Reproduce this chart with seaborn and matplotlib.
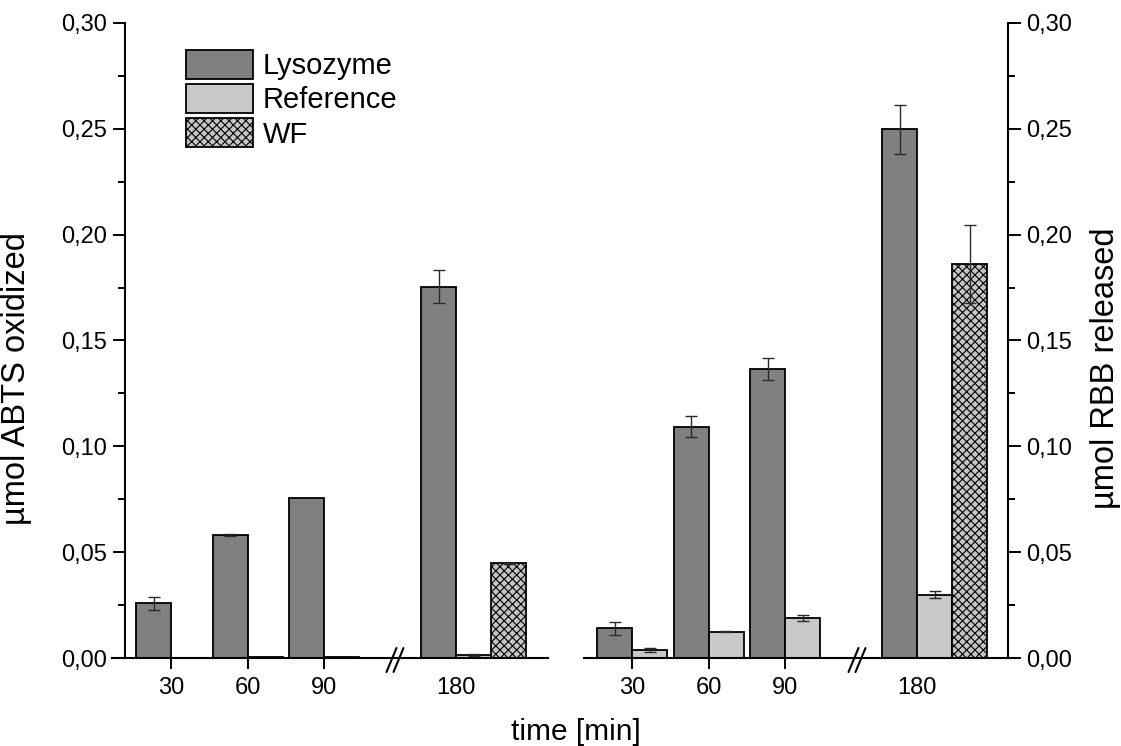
import numpy as np
import pandas as pd
import matplotlib
matplotlib.use("Agg")
import matplotlib.pyplot as plt
import seaborn as sns
from matplotlib.patches import Patch
from matplotlib.lines import Line2D
from matplotlib.container import BarContainer
from matplotlib.ticker import MultipleLocator, FuncFormatter
from matplotlib.colors import to_rgba

# ---------------- data ----------------
times = ["30", "60", "90", "180"]
series_names = ["Lysozyme", "Reference", "WF"]

abts_lys = [0.0258, 0.0580, 0.0755, 0.1755]
abts_lys_err = [0.0030, 0.0004, 0.0, 0.0080]
abts_ref = [0.0, 0.0006, 0.0005, 0.0015]
abts_ref_err = [0.0, 0.0, 0.0, 0.0004]
abts_wf = [np.nan, np.nan, np.nan, 0.0447]
abts_wf_err = [np.nan, np.nan, np.nan, 0.0003]

rbb_lys = [0.0140, 0.1093, 0.1365, 0.2497]
rbb_lys_err = [0.0030, 0.0050, 0.0052, 0.0115]
rbb_ref = [0.0038, 0.0125, 0.0190, 0.0300]
rbb_ref_err = [0.0010, 0.0003, 0.0015, 0.0018]
rbb_wf = [np.nan, np.nan, np.nan, 0.1860]
rbb_wf_err = [np.nan, np.nan, np.nan, 0.0185]

# ---------------- style ----------------
sns.set_style("ticks")
plt.rcParams["font.family"] = ["Liberation Sans", "DejaVu Sans"]
plt.rcParams["hatch.linewidth"] = 0.8
for k in ["text.color", "axes.labelcolor", "xtick.color", "ytick.color", "axes.edgecolor"]:
    plt.rcParams[k] = "black"

colors = {"Lysozyme": "#808080", "Reference": "#c8c8c8", "WF": "#c4c4c4"}
hatches = {"Lysozyme": "", "Reference": "", "WF": "xxxx"}

W, H = 1121, 746
fig = plt.figure(figsize=(W / 100, H / 100), dpi=100)

BW = 35 / 76.5          # width of one bar (axis units)
BREAK_POS = 3.73        # position of the 180 group after the axis break
group_pos = [0, 1, 2, BREAK_POS]
TICK_FS = 17
YLABEL_FS = 23.5
XLABEL_FS = 21.5
LEG_FS = 21


def px_axes(x0, x1, y0, y1):
    return fig.add_axes([x0 / W, 1 - y1 / H, (x1 - x0) / W, (y1 - y0) / H])


def make_df(lys, lys_e, ref, ref_e, wf, wf_e):
    rows = []
    for name, vals, errs in [("Lysozyme", lys, lys_e), ("Reference", ref, ref_e), ("WF", wf, wf_e)]:
        for i, (v, e) in enumerate(zip(vals, errs)):
            if np.isnan(v):
                continue
            rows.append(dict(pos=group_pos[i] + BW / 2, series=name, value=v, err=e, t=times[i]))
    return pd.DataFrame(rows)


def draw_panel(ax, df):
    sns.barplot(data=df, x="pos", y="value", hue="series", hue_order=series_names,
                palette=colors, native_scale=True, width=3 * BW, dodge=True,
                errorbar=None, edgecolor="black", linewidth=1.3, saturation=1,
                legend=False, ax=ax)
    bar_conts = [c for c in ax.containers if isinstance(c, BarContainer)]
    for cont in bar_conts:
        if len(cont.patches) == 0:
            continue
        fc = cont.patches[0].get_facecolor()
        name = min(series_names, key=lambda n: np.sum(np.abs(np.array(to_rgba(colors[n])) - np.array(fc))))
        sub = df[df.series == name].sort_values("pos")
        pats = sorted(cont.patches, key=lambda p: p.get_x())
        for p, (_, r) in zip(pats, sub.iterrows()):
            p.set_hatch(hatches[name])
            if r.err > 0:
                ax.errorbar(p.get_x() + p.get_width() / 2, p.get_height(), yerr=r.err,
                            fmt="none", ecolor="#2a2a2a", elinewidth=1.0, capsize=4.3,
                            capthick=1.0, zorder=5)


def style_axis(ax, xlim, spine_x, side):
    ax.set_xlim(*xlim)
    ax.set_ylim(0, 0.30)
    ax.yaxis.set_major_locator(MultipleLocator(0.05))
    ax.yaxis.set_minor_locator(MultipleLocator(0.025))
    ax.yaxis.set_major_formatter(FuncFormatter(lambda v, _: f"{v:.2f}".replace(".", ",")))
    ax.set_xticks(group_pos)
    ax.set_xticklabels(times)
    ax.tick_params(axis="x", direction="out", length=8, width=1.4, labelsize=TICK_FS, pad=6)
    ax.tick_params(axis="y", which="major", direction="out", length=9, width=1.4, labelsize=TICK_FS, pad=4)
    ax.tick_params(axis="y", which="minor", direction="out", length=5, width=1.4)
    ax.xaxis.get_major_ticks()[3].tick1line.set_visible(False)
    for s in ["top", "left", "right", "bottom"]:
        ax.spines[s].set_visible(False)
    ax.spines["bottom"].set_visible(True)
    ax.spines["bottom"].set_linewidth(1.5)
    ax.spines[side].set_visible(True)
    ax.spines[side].set_linewidth(1.5)
    ax.spines[side].set_position(("data", spine_x))
    if side == "right":
        ax.yaxis.tick_right()
        ax.yaxis.set_label_position("right")
    ax.set_xlabel("")
    ax.patch.set_alpha(0)


def draw_break(ax, xb):
    fig.canvas.draw()
    x0, y0 = ax.transData.transform((xb, 0))
    for dx in (-3.5, 3.5):
        xs = np.array([x0 + dx - 5, x0 + dx + 5]) / W
        ys = np.array([y0 - 14, y0 + 10]) / H
        fig.add_artist(Line2D(xs, ys, transform=fig.transFigure, color="black", lw=1.5))


# left panel
axL = px_axes(112, 548, 23, 658)
dfL = make_df(abts_lys, abts_lys_err, abts_ref, abts_ref_err, abts_wf, abts_wf_err)
draw_panel(axL, dfL)
style_axis(axL, ((112 - 171) / 76.5, (548 - 171) / 76.5), (125 - 171) / 76.5, "left")
axL.set_ylabel("µmol ABTS oxidized", fontsize=YLABEL_FS)
axL.yaxis.set_label_coords(-0.183, 0.44)

# right panel
axR = px_axes(584, 1018, 23, 658)
dfR = make_df(rbb_lys, rbb_lys_err, rbb_ref, rbb_ref_err, rbb_wf, rbb_wf_err)
draw_panel(axR, dfR)
style_axis(axR, ((584 - 632) / 76.5, (1018 - 632) / 76.5), (1008 - 632) / 76.5, "right")
axR.set_ylabel("µmol RBB released", fontsize=YLABEL_FS)
axR.yaxis.set_label_coords(1.165, 0.457)

draw_break(axL, (395 - 171) / 76.5)
draw_break(axR, (857 - 632) / 76.5)

fig.text(576 / W, 1 - 740 / H, "time [min]", ha="center", va="baseline", fontsize=XLABEL_FS)

fs_px = LEG_FS * 100 / 72
handles = [Patch(facecolor=colors[n], edgecolor="black", hatch=hatches[n], linewidth=1.3) for n in series_names]
axL.legend(handles, series_names, loc="upper left", bbox_to_anchor=(186 / W, 1 - 50 / H),
           bbox_transform=fig.transFigure, frameon=False, fontsize=LEG_FS,
           handlelength=67 / fs_px, handleheight=33 / fs_px, labelspacing=4 / fs_px,
           handletextpad=10 / fs_px, borderpad=0, borderaxespad=0)

fig.savefig("out.png", dpi=100)
